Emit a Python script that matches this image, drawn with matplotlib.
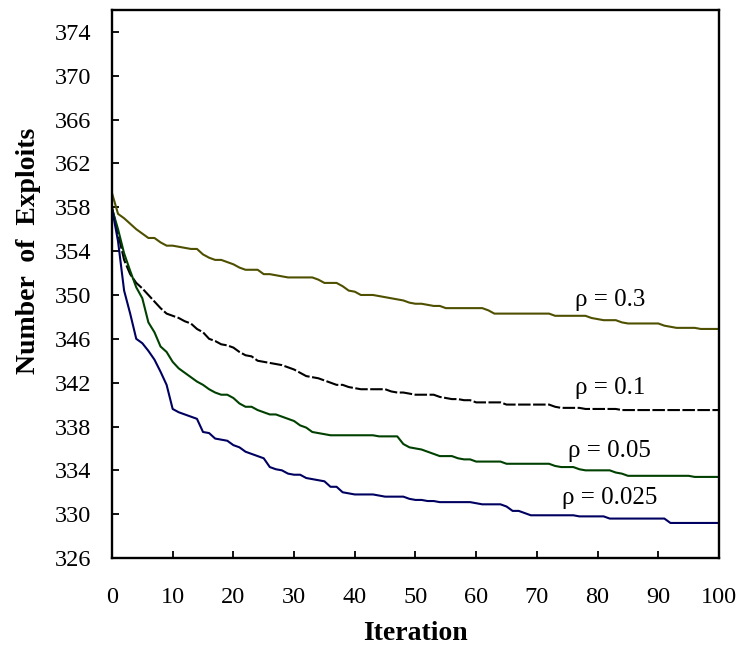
import matplotlib
matplotlib.use("Agg")
import matplotlib.pyplot as plt
import numpy as np

plt.rcParams['font.family'] = ['Liberation Serif', 'DejaVu Serif']

iterations = list(range(101))

rho_03 = [359.3, 357.4, 357.0, 356.5, 356.0, 355.6, 355.2, 355.2, 354.8, 354.5,
          354.5, 354.4, 354.3, 354.2, 354.2, 353.7, 353.4, 353.2, 353.2, 353.0,
          352.8, 352.5, 352.3, 352.3, 352.3, 351.9, 351.9, 351.8, 351.7, 351.6,
          351.6, 351.6, 351.6, 351.6, 351.4, 351.1, 351.1, 351.1, 350.8, 350.4,
          350.3, 350.0, 350.0, 350.0, 349.9, 349.8, 349.7, 349.6, 349.5, 349.3,
          349.2, 349.2, 349.1, 349.0, 349.0, 348.8, 348.8, 348.8, 348.8, 348.8,
          348.8, 348.8, 348.6, 348.3, 348.3, 348.3, 348.3, 348.3, 348.3, 348.3,
          348.3, 348.3, 348.3, 348.1, 348.1, 348.1, 348.1, 348.1, 348.1, 347.9,
          347.8, 347.7, 347.7, 347.7, 347.5, 347.4, 347.4, 347.4, 347.4, 347.4,
          347.4, 347.2, 347.1, 347.0, 347.0, 347.0, 347.0, 346.9, 346.9, 346.9,
          346.9]

rho_01 = [358.0, 355.6, 353.2, 351.9, 351.1, 350.6, 350.0, 349.4, 348.8, 348.3,
          348.1, 347.9, 347.6, 347.4, 346.9, 346.6, 346.0, 345.8, 345.5, 345.4,
          345.2, 344.8, 344.5, 344.4, 344.0, 343.9, 343.8, 343.7, 343.6, 343.4,
          343.2, 342.9, 342.6, 342.5, 342.4, 342.2, 342.0, 341.8, 341.8, 341.6,
          341.5, 341.4, 341.4, 341.4, 341.4, 341.4, 341.2, 341.1, 341.1, 341.0,
          340.9, 340.9, 340.9, 340.9, 340.7, 340.6, 340.5, 340.5, 340.4, 340.4,
          340.2, 340.2, 340.2, 340.2, 340.2, 340.0, 340.0, 340.0, 340.0, 340.0,
          340.0, 340.0, 340.0, 339.8, 339.7, 339.7, 339.7, 339.7, 339.6, 339.6,
          339.6, 339.6, 339.6, 339.6, 339.5, 339.5, 339.5, 339.5, 339.5, 339.5,
          339.5, 339.5, 339.5, 339.5, 339.5, 339.5, 339.5, 339.5, 339.5, 339.5,
          339.5]

rho_005 = [357.9, 356.0, 353.8, 352.2, 350.7, 349.7, 347.5, 346.6, 345.3, 344.8,
           343.9, 343.3, 342.9, 342.5, 342.1, 341.8, 341.4, 341.1, 340.9, 340.9,
           340.6, 340.1, 339.8, 339.8, 339.5, 339.3, 339.1, 339.1, 338.9, 338.7,
           338.5, 338.1, 337.9, 337.5, 337.4, 337.3, 337.2, 337.2, 337.2, 337.2,
           337.2, 337.2, 337.2, 337.2, 337.1, 337.1, 337.1, 337.1, 336.4, 336.1,
           336.0, 335.9, 335.7, 335.5, 335.3, 335.3, 335.3, 335.1, 335.0, 335.0,
           334.8, 334.8, 334.8, 334.8, 334.8, 334.6, 334.6, 334.6, 334.6, 334.6,
           334.6, 334.6, 334.6, 334.4, 334.3, 334.3, 334.3, 334.1, 334.0, 334.0,
           334.0, 334.0, 334.0, 333.8, 333.7, 333.5, 333.5, 333.5, 333.5, 333.5,
           333.5, 333.5, 333.5, 333.5, 333.5, 333.5, 333.4, 333.4, 333.4, 333.4,
           333.4]

rho_0025 = [357.9, 354.9, 350.4, 348.3, 346.0, 345.6, 344.9, 344.1, 343.0, 341.8,
            339.6, 339.3, 339.1, 338.9, 338.7, 337.5, 337.4, 336.9, 336.8, 336.7,
            336.3, 336.1, 335.7, 335.5, 335.3, 335.1, 334.3, 334.1, 334.0, 333.7,
            333.6, 333.6, 333.3, 333.2, 333.1, 333.0, 332.5, 332.5, 332.0, 331.9,
            331.8, 331.8, 331.8, 331.8, 331.7, 331.6, 331.6, 331.6, 331.6, 331.4,
            331.3, 331.3, 331.2, 331.2, 331.1, 331.1, 331.1, 331.1, 331.1, 331.1,
            331.0, 330.9, 330.9, 330.9, 330.9, 330.7, 330.3, 330.3, 330.1, 329.9,
            329.9, 329.9, 329.9, 329.9, 329.9, 329.9, 329.9, 329.8, 329.8, 329.8,
            329.8, 329.8, 329.6, 329.6, 329.6, 329.6, 329.6, 329.6, 329.6, 329.6,
            329.6, 329.6, 329.2, 329.2, 329.2, 329.2, 329.2, 329.2, 329.2, 329.2,
            329.2]

labels = ['ρ = 0.3', 'ρ = 0.1', 'ρ = 0.05', 'ρ = 0.025']
label_y = [349.5, 341.5, 335.8, 331.5]
yticks = list(range(326, 375, 4))
xticks = list(range(0, 101, 10))

fig = plt.figure(figsize=(7.41, 6.5), dpi=100)
ax = fig.add_axes([0.1511, 0.1415, 0.8192, 0.8431])

ax.plot(iterations, rho_03, color='#4f4f00', lw=1.5)
ax.plot(iterations, rho_01, color='black', lw=1.5, linestyle=(0, (6, 1.2)))
ax.plot(iterations, rho_005, color='#004000', lw=1.5)
ax.plot(iterations, rho_0025, color='#000060', lw=1.5)

for txt, y in zip(labels, label_y):
    ax.text(82, y, txt, ha='center', va='center', fontsize=18)

ax.set_xlim(0, 100)
ax.set_ylim(326, 376)
ax.set_xticks(xticks)
ax.set_yticks(yticks)
ax.tick_params(direction='in', length=5, width=1.3, labelsize=17.5)
ax.tick_params(axis='x', pad=21)
ax.tick_params(axis='y', pad=15)
for s in ax.spines.values():
    s.set_linewidth(1.7)

ax.set_xlabel('Iteration', fontsize=20, fontweight='bold')
ax.set_ylabel('Number  of  Exploits', fontsize=20, fontweight='bold')
ax.xaxis.set_label_coords(0.5, -0.137)
ax.xaxis.label.set_verticalalignment('center')
ax.yaxis.set_label_coords(-0.138, 0.56)
ax.yaxis.label.set_verticalalignment('center')

fig.savefig('out.png', dpi=100)
